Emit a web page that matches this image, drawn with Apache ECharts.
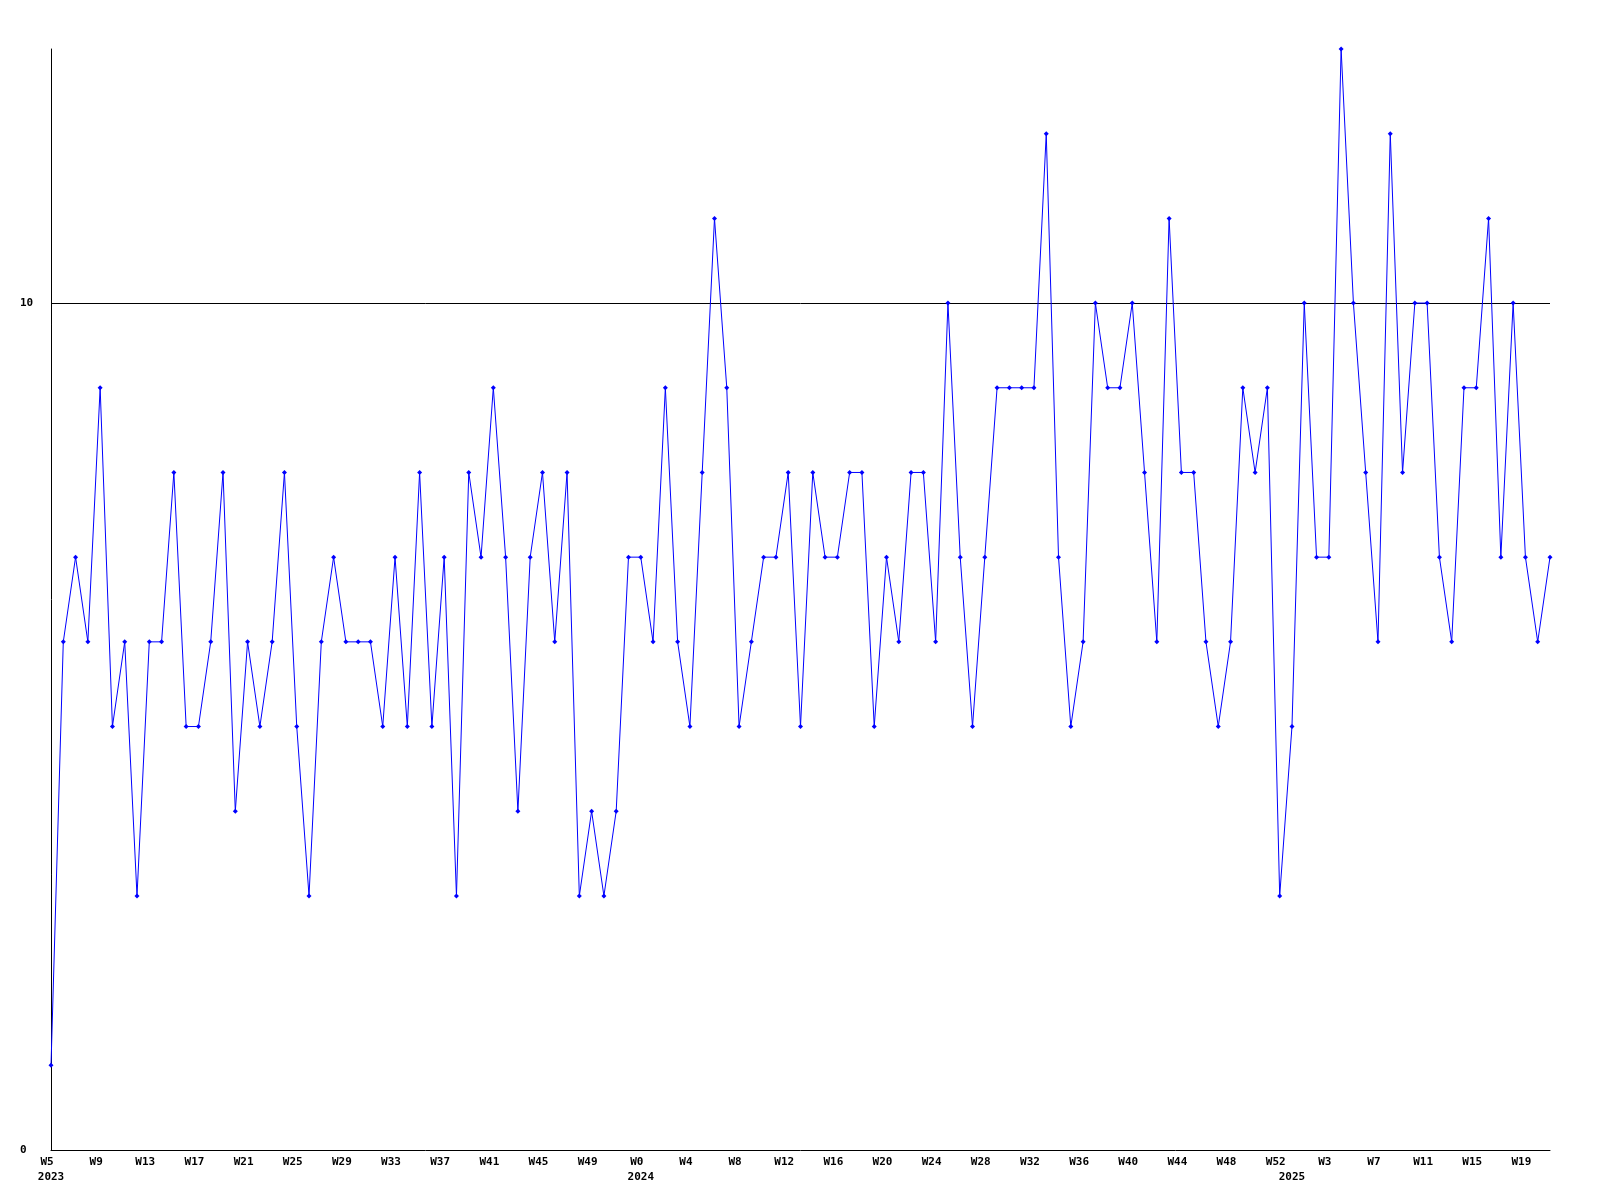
<!DOCTYPE html>
<html>
<head>
<meta charset="utf-8">
<script src="https://cdn.jsdelivr.net/npm/echarts@6/dist/echarts.min.js"></script>
<style>
html,body{margin:0;padding:0;background:#fff;}
#chart{width:1600px;height:1200px;}
</style>
</head>
<body>
<div id="chart"></div>
<script>
// Week ranges per year (categories)
const years = [2023, 2024, 2025];
const firstWeek = [5, 0, 0];
const lastWeek = [52, 52, 21];

// Weekly values per year
const values2023 = [1,6,7,6,9,5,6,3,6,6,8,5,5,6,8,4,6,5,6,8,5,3,6,7,6,6,6,5,7,5,8,5,7,3,8,7,9,7,4,7,8,6,8,3,4,3,4,7];
const values2024 = [7,6,9,6,5,8,11,9,5,6,7,7,8,5,8,7,7,8,8,5,7,6,8,8,6,10,7,5,7,9,9,9,9,12,7,5,6,10,9,9,10,8,6,11,8,8,6,5,6,9,8,9,3];
const values2025 = [5,10,7,7,13,10,8,6,12,8,10,10,7,6,9,9,11,7,10,7,6,7];

// Y axis ticks
const yTicks = [0, 10];
const gridLines = [10];

const categories = [];
const yearStart = {};
years.forEach((y, k) => {
  yearStart[categories.length] = String(y);
  for (let w = firstWeek[k]; w <= lastWeek[k]; w++) {
    categories.push('W' + w);
  }
});
const values = values2023.concat(values2024, values2025);

const font = {fontFamily: 'DejaVu Sans Mono', fontWeight: 'bold', fontSize: 11, color: '#000'};

const chart = echarts.init(document.getElementById('chart'));
chart.setOption({
  backgroundColor: '#ffffff',
  animation: false,
  grid: {left: 51, right: 50, top: 49, bottom: 50, containLabel: false},
  xAxis: [{
    type: 'category',
    data: categories,
    boundaryGap: false,
    axisLine: {show: true, lineStyle: {color: '#000', width: 1}},
    axisTick: {show: false},
    splitLine: {show: false},
    axisLabel: Object.assign({interval: 3, margin: 7, padding: [0, 8, 0, 0]}, font)
  }, {
    type: 'category',
    data: categories,
    boundaryGap: false,
    position: 'bottom',
    offset: 16,
    axisLine: {show: false},
    axisTick: {show: false},
    splitLine: {show: false},
    axisLabel: Object.assign({
      interval: (i) => yearStart[i] !== undefined,
      formatter: (v, i) => yearStart[i] || '',
      margin: 6
    }, font)
  }],
  yAxis: {
    type: 'value',
    min: 0,
    max: 13,
    interval: 10,
    axisLine: {show: true, lineStyle: {color: '#000', width: 1}},
    axisTick: {show: false},
    splitLine: {show: false},
    axisLabel: Object.assign({
      margin: 31, align: 'left',
      formatter: (v) => yTicks.indexOf(v) >= 0 ? String(v) : ''
    }, font)
  },
  series: [{
    type: 'line',
    data: values,
    xAxisIndex: 0,
    symbol: 'diamond',
    symbolSize: 5,
    showAllSymbol: true,
    lineStyle: {color: '#0000ff', width: 1},
    itemStyle: {color: '#0000ff'},
    z: 3,
    markLine: {
      silent: true,
      symbol: ['none', 'none'],
      label: {show: false},
      lineStyle: {color: '#000', width: 1, type: 'solid'},
      z: 1,
      data: gridLines.map(v => ({yAxis: v}))
    }
  }]
});
</script>
</body>
</html>
